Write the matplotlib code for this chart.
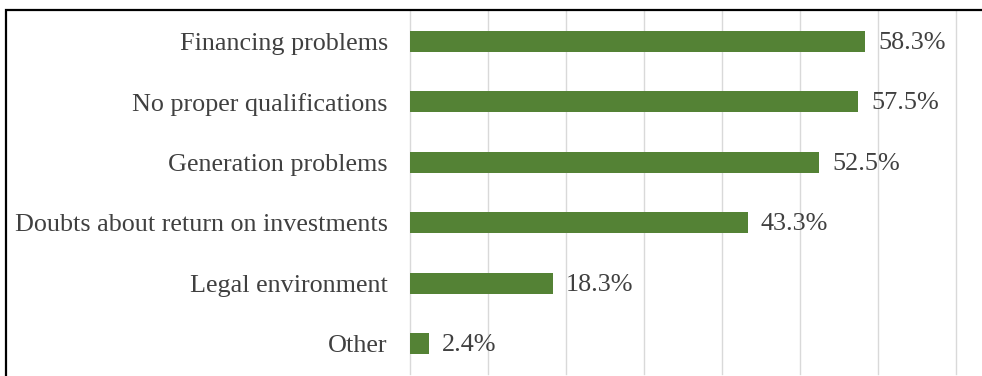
import matplotlib.pyplot as plt
from matplotlib.patches import Rectangle

# Barriers reported, share of respondents (%)
categories = ["Financing problems", "No proper qualifications", "Generation problems",
              "Doubts about return on investments", "Legal environment", "Other"]
values = [58.3, 57.5, 52.5, 43.3, 18.3, 2.4]

plt.rcParams['font.family'] = ['Liberation Serif', 'DejaVu Serif']
text_color = '#404040'

fig = plt.figure(figsize=(9.82, 3.76), dpi=100)
ax = fig.add_axes([410 / 982, 2 / 376, 546 / 982, 363 / 376])

y = list(range(len(categories)))
ax.barh(y, values, height=0.35, color='#548235', zorder=3)

for yi, v in zip(y, values):
    ax.annotate(f"{v:.1f}%", xy=(v, yi), xytext=(9.5, -1.2), textcoords='offset points',
                va='center', ha='left', fontsize=18.8, color=text_color)

ax.set_xlim(0, 70)
ax.set_ylim(len(categories) - 0.5, -0.5)
ax.set_xticks(range(0, 71, 10))
ax.set_xticklabels([])
ax.set_yticks(y)
ax.set_yticklabels(categories, fontsize=18.8, color=text_color)
ax.tick_params(axis='both', length=0)
ax.tick_params(axis='y', pad=16)
for gx in range(0, 71, 10):
    ax.axvline(gx, color='#d9d9d9', linewidth=1, zorder=0, clip_on=False)
for s in ax.spines.values():
    s.set_visible(False)

# outer frame, open on the right and bottom edges
fig.add_artist(Rectangle((6 / 982, -0.1), 1.2, (376 - 10) / 376 + 0.1,
                         transform=fig.transFigure, fill=False,
                         edgecolor='black', linewidth=1.6))

fig.savefig('out.png', dpi=100)
